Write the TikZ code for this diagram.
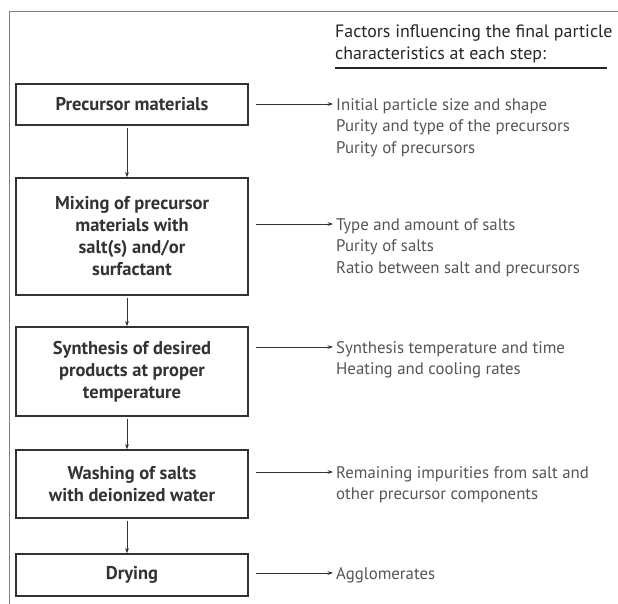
\documentclass[tikz,border=0pt]{standalone}
\usepackage{fontspec}
\setmainfont{PT Sans}
\usetikzlibrary{arrows.meta, positioning}

\definecolor{framegray}{HTML}{808080}
\definecolor{boxgray}{HTML}{333333}
\definecolor{notegray}{HTML}{555555}

\begin{document}
\begin{tikzpicture}[x=1pt, y=-1pt,
  stepbox/.style={draw=boxgray, line width=1.2pt, minimum width=232pt, inner sep=4pt,
    align=center, text=boxgray, font=\fontsize{18.5}{22}\selectfont\bfseries},
  factor/.style={anchor=base west, align=left, inner xsep=3pt, inner ysep=0pt,
    text=notegray, font=\fontsize{16.8}{21.3}\selectfont},
  link/.style={-{Stealth[length=5.5pt, width=3.8pt]}, line width=0.8pt, draw=boxgray},
]
\useasboundingbox (0,0) rectangle (618,604);

% open frame
\draw[framegray, line width=1pt] (618,12) -- (9.5,12) -- (9.5,604);

% heading of the factor column (placed by its last baseline)
\node[anchor=base west, align=left, inner sep=0pt, text=black!85,
  font=\fontsize{17.9}{22}\selectfont] (head) at (335,60)
  {Factors influencing the final particle\\characteristics at each step:};
\draw[line width=2pt, black!85] (335,68) -- (607,68);

% process steps
\node[stepbox, minimum height=41pt] (p1) at (132,104.5) {Precursor materials};
\node[stepbox, minimum height=117pt] (p2) at (132,236.5) {Mixing of precursor\\materials with\\salt(s) and/or\\surfactant};
\node[stepbox, minimum height=89pt] (p3) at (132,371.5) {Synthesis of desired\\products at proper\\temperature};
\node[stepbox, minimum height=68pt] (p4) at (132,484) {Washing of salts\\with deionized water};
\node[stepbox, minimum height=42pt] (p5) at (132,575) {Drying};

\foreach \a/\b in {p1/p2, p2/p3, p3/p4, p4/p5}
  \draw[link, shorten <=2pt] ([xshift=-5pt]\a.south) -- ([xshift=-5pt]\b.north);

% factors at each step (placed by their last baseline)
\node[factor] (f1) at (333,153.1) {Initial particle size and shape\\Purity and type of the precursors\\Purity of precursors};
\node[factor] (f2) at (333,273.1) {Type and amount of salts\\Purity of salts\\Ratio between salt and precursors};
\node[factor] (f3) at (333,374.8) {Synthesis temperature and time\\Heating and cooling rates};
\node[factor] (f4) at (333,499.8) {Remaining impurities from salt and\\other precursor components};
\node[factor] (f5) at (333,579.5) {Agglomerates};

\foreach \i/\y in {1/104, 2/224, 3/347, 4/472, 5/573} {
  \coordinate (s\i) at (256,\y);
  \draw[link] (s\i) -- (f\i.west |- s\i);
}
\end{tikzpicture}
\end{document}
